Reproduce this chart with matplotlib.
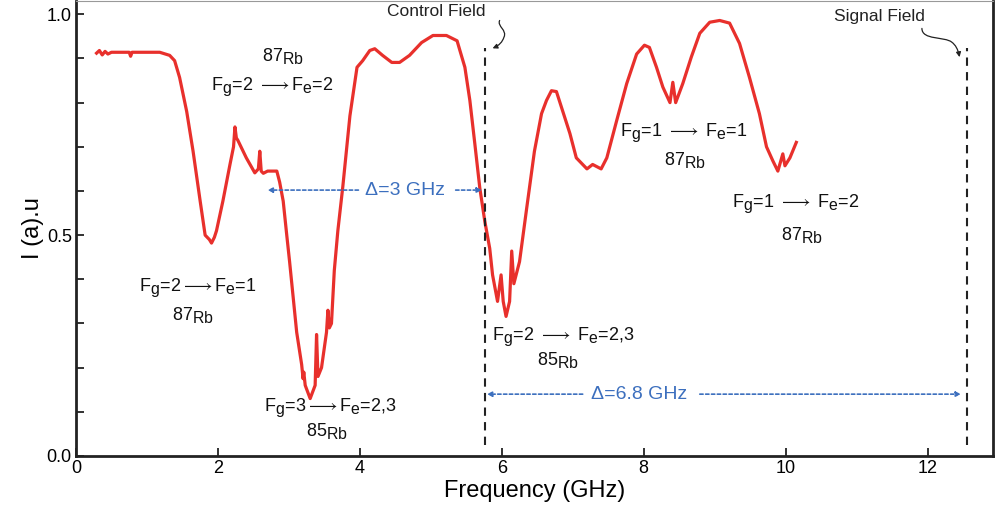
import numpy as np
import matplotlib
matplotlib.use("Agg")
import matplotlib.pyplot as plt
import matplotlib._mathtext as mtext
from matplotlib.path import Path
from matplotlib.patches import FancyArrowPatch

plt.rcParams['font.family'] = ['Liberation Sans', 'DejaVu Sans']
plt.rcParams['mathtext.fontset'] = 'custom'
plt.rcParams['mathtext.rm'] = 'Liberation Sans'
plt.rcParams['mathtext.it'] = 'Liberation Sans:italic'
plt.rcParams['mathtext.bf'] = 'Liberation Sans:bold'
plt.rcParams['mathtext.fallback'] = 'stixsans'
mtext.SHRINK_FACTOR = 0.88  # subscripts nearly full size, like the figure

# transmission spectrum (GHz, arb. units)
freq = [0.29, 0.33, 0.37, 0.41, 0.45, 0.50, 0.60, 0.75, 0.77, 0.79, 1.00, 1.18,
        1.32, 1.39, 1.46, 1.56, 1.65, 1.75, 1.82, 1.88, 1.91, 1.95, 1.98, 2.07,
        2.17, 2.22, 2.24, 2.26, 2.28, 2.40, 2.52, 2.57, 2.59, 2.61, 2.64, 2.70,
        2.83, 2.87, 2.92, 2.97, 3.01, 3.11, 3.18, 3.20, 3.21, 3.23, 3.30, 3.37,
        3.39, 3.41, 3.46, 3.53, 3.55, 3.57, 3.60, 3.64, 3.69, 3.76, 3.86, 3.96,
        4.04, 4.14, 4.21, 4.32, 4.45, 4.56, 4.70, 4.87, 5.03, 5.22, 5.37, 5.41,
        5.48, 5.55, 5.62, 5.69, 5.76, 5.83, 5.87, 5.94, 5.99, 6.02, 6.06, 6.11,
        6.14, 6.17, 6.25, 6.35, 6.46, 6.56, 6.63, 6.70, 6.77, 6.86, 6.96, 7.05,
        7.20, 7.28, 7.40, 7.48, 7.62, 7.76, 7.90, 8.01, 8.08, 8.18, 8.27, 8.37,
        8.41, 8.45, 8.55, 8.67, 8.79, 8.93, 9.07, 9.21, 9.35, 9.49, 9.63, 9.73,
        9.82, 9.89, 9.96, 9.99, 10.06, 10.15]
inten = [0.912, 0.918, 0.908, 0.916, 0.910, 0.914, 0.914, 0.914, 0.905, 0.914, 0.914, 0.914,
         0.907, 0.895, 0.857, 0.780, 0.690, 0.577, 0.500, 0.490, 0.482, 0.495, 0.510, 0.577,
         0.660, 0.700, 0.745, 0.720, 0.715, 0.675, 0.641, 0.650, 0.690, 0.645, 0.640, 0.645,
         0.645, 0.620, 0.577, 0.500, 0.440, 0.280, 0.207, 0.175, 0.190, 0.160, 0.130, 0.160,
         0.275, 0.180, 0.200, 0.280, 0.330, 0.290, 0.300, 0.420, 0.510, 0.610, 0.770, 0.880,
         0.895, 0.918, 0.922, 0.907, 0.891, 0.891, 0.907, 0.936, 0.952, 0.952, 0.940, 0.918,
         0.880, 0.805, 0.707, 0.607, 0.532, 0.470, 0.410, 0.350, 0.410, 0.350, 0.316, 0.350,
         0.464, 0.390, 0.440, 0.560, 0.690, 0.775, 0.805, 0.827, 0.825, 0.780, 0.730, 0.675,
         0.650, 0.660, 0.650, 0.675, 0.760, 0.843, 0.910, 0.930, 0.925, 0.880, 0.835, 0.800,
         0.846, 0.800, 0.843, 0.903, 0.957, 0.982, 0.986, 0.980, 0.934, 0.857, 0.775, 0.700,
         0.668, 0.645, 0.684, 0.657, 0.675, 0.710]

control_f = 5.77
signal_f = 12.56

ARR = r'$\longrightarrow$'
labels = [
    (r'87$_{\rm Rb}$', 2.92, 0.905),
    (r'F$_{\rm g}$=2 ' + ARR + r'F$_{\rm e}$=2', 2.77, 0.835),
    (r'F$_{\rm g}$=2' + ARR + r'F$_{\rm e}$=1', 1.72, 0.382),
    (r'87$_{\rm Rb}$', 1.65, 0.319),
    (r'F$_{\rm g}$=3' + ARR + r'F$_{\rm e}$=2,3', 3.59, 0.109),
    (r'85$_{\rm Rb}$', 3.54, 0.057),
    (r'F$_{\rm g}$=2 ' + ARR + r' F$_{\rm e}$=2,3', 6.87, 0.269),
    (r'85$_{\rm Rb}$', 6.79, 0.217),
    (r'F$_{\rm g}$=1 ' + ARR + r' F$_{\rm e}$=1', 8.56, 0.731),
    (r'87$_{\rm Rb}$', 8.58, 0.670),
    (r'F$_{\rm g}$=1 ' + ARR + r' F$_{\rm e}$=2', 10.14, 0.572),
    (r'87$_{\rm Rb}$', 10.23, 0.500),
]

red = '#e8302c'
blue = '#3c6fbe'

fig = plt.figure(figsize=(10.01, 5.17), dpi=100)
ax = fig.add_axes([0.0759, 0.118, 0.916, 0.880])

ax.plot(freq, inten, color=red, lw=2.3, solid_joinstyle='round')

# field markers
for f in (control_f, signal_f):
    ax.plot([f, f], [0.025, 0.923], color='#222222', lw=1.5, ls=(0, (4, 3)))

ax.text(5.08, 1.007, 'Control Field', fontsize=12.5, ha='center', va='center', color='#222222')
ax.text(11.32, 0.995, 'Signal Field', fontsize=12.5, ha='center', va='center', color='#222222')

p1 = Path([(5.97, 0.986), (5.93, 0.973), (6.08, 0.964), (6.03, 0.948),
           (6.00, 0.932), (5.87, 0.923)],
          [Path.MOVETO, Path.CURVE4, Path.CURVE4, Path.CURVE4, Path.CURVE3, Path.CURVE3])
p2 = Path([(11.92, 0.968), (11.92, 0.941), (12.24, 0.950), (12.34, 0.937),
           (12.42, 0.928), (12.45, 0.903)],
          [Path.MOVETO, Path.CURVE4, Path.CURVE4, Path.CURVE4, Path.CURVE3, Path.CURVE3])
for p in (p1, p2):
    ax.add_patch(FancyArrowPatch(path=p, arrowstyle='-|>', mutation_scale=7,
                                 color='#222222', lw=0.9))

# delta arrows
def delta_arrow(x0, x1, y):
    ax.annotate('', xy=(x1, y), xytext=(x0, y),
                arrowprops=dict(arrowstyle='-|>', color=blue, lw=1.2, ls=(0, (2, 1.5)),
                                mutation_scale=7, shrinkA=0, shrinkB=0))

delta_arrow(3.98, 2.70, 0.602)
delta_arrow(5.35, 5.72, 0.602)
ax.text(4.63, 0.602, 'Δ=3 GHz', fontsize=14, color=blue, ha='center', va='center')
delta_arrow(7.14, 5.79, 0.140)
delta_arrow(8.79, 12.47, 0.140)
ax.text(7.93, 0.140, 'Δ=6.8 GHz', fontsize=14, color=blue, ha='center', va='center')

for s, x, y in labels:
    ax.text(x, y, s, fontsize=13, ha='center', va='center', color='#111111')

ax.set_xlim(0, 12.92)
ax.set_ylim(0, 1.03)
ax.set_xticks(range(0, 13, 2))
ax.set_yticks([0.0, 0.5, 1.0])
ax.set_yticklabels(['0.0', '0.5', '1.0'])
ax.set_yticks(np.arange(0, 1.01, 0.1), minor=True)
ax.tick_params(which='both', direction='in', length=6, width=1.3, labelsize=13, pad=3,
               color='#222222')
ax.tick_params(which='both', top=False, right=False)

for side in ('left', 'bottom', 'right'):
    ax.spines[side].set_linewidth(2.0)
    ax.spines[side].set_color('#222222')
ax.spines['top'].set_linewidth(0.8)
ax.spines['top'].set_color('#999999')

ax.set_xlabel('Frequency (GHz)', fontsize=17, labelpad=2)
ax.set_ylabel('I (a).u', fontsize=17, labelpad=2)

fig.savefig('out.png', dpi=100)
